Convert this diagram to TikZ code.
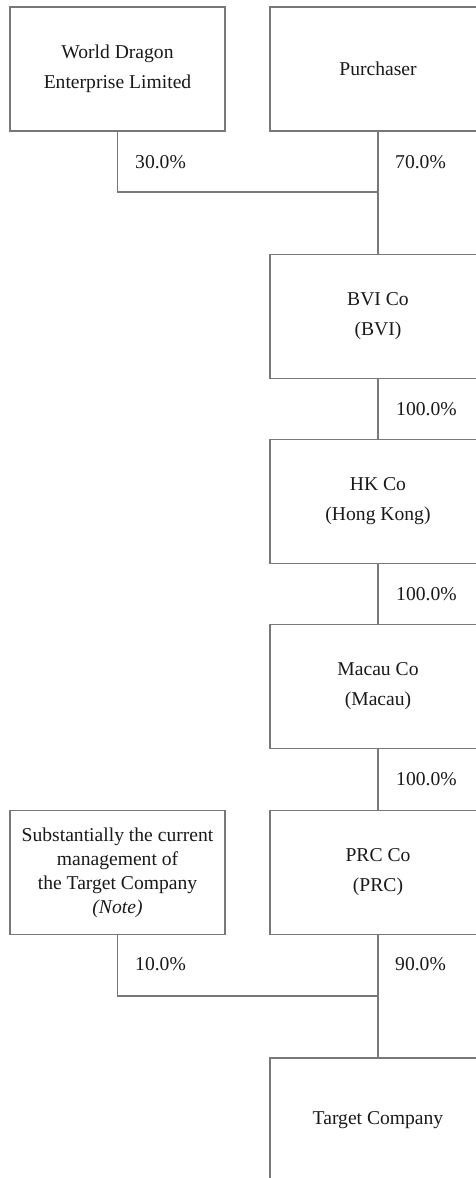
\documentclass[tikz,border=0pt]{standalone}
\usepackage{fontspec}
\setmainfont{Liberation Serif}
\begin{document}
\begin{tikzpicture}[x=1pt,y=-1pt,
  line/.style={draw=black!53, line width=1.5pt},
  box/.style={line, rectangle, inner sep=0pt, minimum height=124pt, align=center, text=black!90,
    font=\fontsize{19.6}{30}\selectfont},
  lbox/.style={box, minimum width=215pt},
  rbox/.style={box, minimum width=216pt},
  pct/.style={anchor=west, inner sep=0pt, text=black!90, font=\fontsize{19.6}{24}\selectfont}]
\useasboundingbox (0,0) rectangle (476,1178);
\clip (0,0) rectangle (476,1178);
\node[lbox] (wd) at (117.5,69) {World Dragon\\Enterprise Limited};
\node[rbox] (pur) at (378,69) {Purchaser};
\node[rbox] (bvi) at (378,316.5) {BVI Co\\(BVI)};
\node[rbox] (hk) at (378,501.5) {HK Co\\(Hong Kong)};
\node[rbox] (mac) at (378,686.5) {Macau Co\\(Macau)};
\node[lbox, font=\fontsize{19.6}{24}\selectfont] (mgmt) at (117.5,872.5) {Substantially the current\\management of\\the Target Company\\\textit{(Note)}};
\node[rbox] (prc) at (378,872.5) {PRC Co\\(PRC)};
\node[rbox] (tgt) at (378,1120) {Target Company};
\coordinate (j1) at (378,192);
\coordinate (j2) at (378,996);
\draw[line] (wd.south) |- (j1);
\draw[line] (pur.south) -- (bvi.north);
\draw[line] (bvi.south) -- (hk.north);
\draw[line] (hk.south) -- (mac.north);
\draw[line] (mac.south) -- (prc.north);
\draw[line] (mgmt.south) |- (j2);
\draw[line] (prc.south) -- (tgt.north);
\node[pct] (p30) at (135,162) {30.0\%};
\node[pct] (p70) at (395,162) {70.0\%};
\node[pct] (p1) at (396,409) {100.0\%};
\node[pct] (p2) at (396,594) {100.0\%};
\node[pct] (p3) at (396,779) {100.0\%};
\node[pct] (p10) at (135,964) {10.0\%};
\node[pct] (p90) at (395,964) {90.0\%};
\end{tikzpicture}
\end{document}
